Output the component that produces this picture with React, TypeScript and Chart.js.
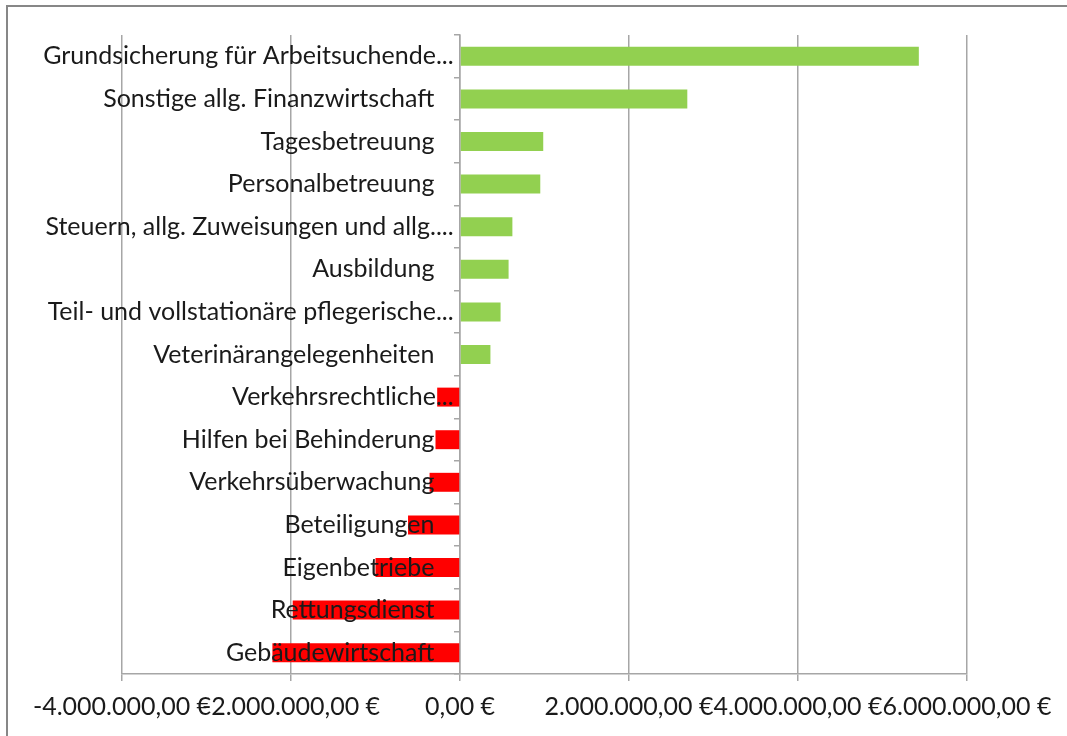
import React, { useEffect, useRef } from 'react';
import { Chart, registerables } from 'chart.js';

Chart.register(...registerables);

const categories: string[] = [
  'Grundsicherung für Arbeitsuchende...',
  'Sonstige allg. Finanzwirtschaft',
  'Tagesbetreuung',
  'Personalbetreuung',
  'Steuern, allg. Zuweisungen und allg....',
  'Ausbildung',
  'Teil- und vollstationäre pflegerische...',
  'Veterinärangelegenheiten',
  'Verkehrsrechtliche...',
  'Hilfen bei Behinderung',
  'Verkehrsüberwachung',
  'Beteiligungen',
  'Eigenbetriebe',
  'Rettungsdienst',
  'Gebäudewirtschaft',
];

const values: number[] = [
  5430000, 2690000, 985000, 950000, 620000, 575000, 480000, 360000,
  -270000, -290000, -360000, -615000, -1000000, -1980000, -2220000,
];

const xTickValues: number[] = [-4000000, -2000000, 0, 2000000, 4000000, 6000000];

const POS_COLOR = '#92d050';
const NEG_COLOR = '#ff0000';
const FONT = 'Lato';

function formatEuro(v: number): string {
  const neg = v < 0;
  const abs = Math.abs(Math.round(v));
  const s = String(abs).replace(/\B(?=(\d{3})+(?!\d))/g, '.');
  return (neg ? '-' : '') + s + ',00 €';
}

export default function App() {
  const ref = useRef<HTMLCanvasElement | null>(null);

  useEffect(() => {
    if (!ref.current) return;
    const chart = new Chart(ref.current, {
      type: 'bar',
      data: {
        labels: categories,
        datasets: [
          {
            data: values,
            backgroundColor: values.map((v) => (v >= 0 ? POS_COLOR : NEG_COLOR)),
            borderWidth: 0,
            barPercentage: 0.445,
            categoryPercentage: 1,
          },
        ],
      },
      options: {
        indexAxis: 'y',
        responsive: false,
        animation: false,
        devicePixelRatio: 1,
        layout: { padding: { left: 122, right: 100, top: 35, bottom: 3 } },
        plugins: { legend: { display: false }, tooltip: { enabled: false } },
        scales: {
          x: {
            min: -4000000,
            max: 6000000,
            afterBuildTicks: (s: any) => {
              s.ticks = xTickValues.map((v) => ({ value: v }));
            },
            grid: {
              color: '#a6a6a6',
              lineWidth: 1.5,
              drawTicks: true,
              tickLength: 7,
              tickColor: '#a6a6a6',
            },
            border: { color: '#a6a6a6', width: 1.5 },
            ticks: {
              autoSkip: false,
              maxRotation: 0,
              minRotation: 0,
              padding: 11,
              color: '#1a1a1a',
              font: { family: FONT, size: 25 },
              callback: (v: any) => formatEuro(Number(v)),
            },
          },
          y: {
            position: { x: 0 } as any,
            offset: true,
            grid: {
              display: true,
              drawOnChartArea: false,
              drawTicks: true,
              tickLength: 5,
              offset: true,
              color: '#a6a6a6',
              lineWidth: 1.5,
            },
            border: { color: '#a6a6a6', width: 1.5 },
            ticks: {
              z: 1,
              autoSkip: false,
              padding: 8,
              color: '#1a1a1a',
              font: { family: FONT, size: 25 },
              callback: (_v: any, i: number) => {
                const l = categories[i];
                return l.endsWith('...') ? l + ' ' : l + '    ';
              },
            },
          },
        },
      },
    });
    return () => chart.destroy();
  }, []);

  return (
    <div
      style={{
        position: 'fixed',
        left: 0,
        top: 0,
        width: 1067,
        height: 736,
        overflow: 'hidden',
        background: '#fff',
      }}
    >
      <div
        style={{
          position: 'absolute',
          left: 6,
          top: 5,
          width: 1100,
          height: 800,
          border: '2px solid #878787',
          boxSizing: 'border-box',
        }}
      />
      <canvas
        ref={ref}
        width={1067}
        height={736}
        style={{ position: 'absolute', left: 0, top: 0, width: 1067, height: 736 }}
      />
    </div>
  );
}
